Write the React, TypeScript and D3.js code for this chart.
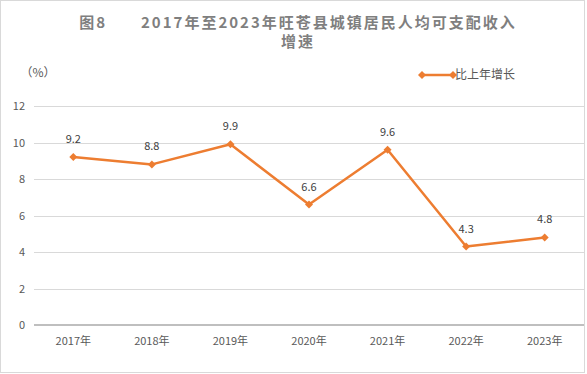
import { useEffect, useRef } from 'react'
import * as d3 from 'd3'

const YEARS = ['2017年', '2018年', '2019年', '2020年', '2021年', '2022年', '2023年']
const GROWTH = [9.2, 8.8, 9.9, 6.6, 9.6, 4.3, 4.8]
const Y_TICKS = [0, 2, 4, 6, 8, 10, 12]
const SERIES_NAME = '比上年增长'
const TITLE_1 = '图8　　2017年至2023年旺苍县城镇居民人均可支配收入'
const TITLE_2 = '增速'

const W = 587
const H = 374
const ORANGE = '#ED7D31'
const FONT = '"Noto Sans CJK SC", "Noto Sans", sans-serif'

export default function App() {
  const svgRef = useRef<SVGSVGElement | null>(null)

  useEffect(() => {
    const svg = svgRef.current
    if (!svg) return
    const root = d3.select(svg)
    root.selectAll('*').remove()

    const margin = { top: 106, right: 3, bottom: 49, left: 34 }

    const x = d3
      .scaleBand<string>()
      .domain(YEARS)
      .range([margin.left, W - margin.right])
    const y = d3
      .scaleLinear()
      .domain([0, 12])
      .range([H - margin.bottom, margin.top])

    // border
    root
      .append('rect')
      .attr('x', 0.5)
      .attr('y', 0.5)
      .attr('width', W - 3)
      .attr('height', H - 2)
      .attr('fill', '#fff')
      .attr('stroke', '#d9d9d9')

    // title, two lines
    root
      .append('g')
      .selectAll('text')
      .data([TITLE_1, TITLE_2])
      .join('text')
      .attr('x', 298)
      .attr('y', (_, i) => 28 + i * 19)
      .attr('text-anchor', 'middle')
      .attr('font-family', FONT)
      .attr('font-weight', 'bold')
      .attr('font-size', 15)
      .attr('letter-spacing', 2)
      .attr('fill', '#7f7f7f')
      .text((d) => d)

    // unit
    root
      .append('text')
      .attr('x', 38)
      .attr('y', 77)
      .attr('text-anchor', 'middle')
      .attr('font-family', FONT)
      .attr('font-size', 12)
      .attr('fill', '#595959')
      .text('（%）')

    // grid
    root
      .append('g')
      .selectAll('line')
      .data(Y_TICKS.filter((t) => t > 0))
      .join('line')
      .attr('x1', margin.left)
      .attr('x2', W - margin.right)
      .attr('y1', (d) => Math.round(y(d)) + 0.5)
      .attr('y2', (d) => Math.round(y(d)) + 0.5)
      .attr('stroke', '#d9d9d9')

    // zero axis
    root
      .append('line')
      .attr('x1', margin.left)
      .attr('x2', W - margin.right)
      .attr('y1', y(0))
      .attr('y2', y(0))
      .attr('stroke', '#bfbfbf')
      .attr('stroke-width', 2)

    // y tick labels
    root
      .append('g')
      .selectAll('text')
      .data(Y_TICKS)
      .join('text')
      .attr('x', 25)
      .attr('y', (d) => y(d) + 4)
      .attr('text-anchor', 'end')
      .attr('font-family', FONT)
      .attr('font-size', 11)
      .attr('fill', '#595959')
      .text((d) => d)

    // x labels
    root
      .append('g')
      .selectAll('text')
      .data(YEARS)
      .join('text')
      .attr('x', (d) => x(d)! + x.bandwidth() / 2)
      .attr('y', y(0) + 20)
      .attr('text-anchor', 'middle')
      .attr('font-family', FONT)
      .attr('font-size', 11)
      .attr('fill', '#595959')
      .text((d) => d)

    const cx = (i: number) => x(YEARS[i])! + x.bandwidth() / 2

    const line = d3
      .line<number>()
      .x((_, i) => cx(i))
      .y((d) => y(d))

    root
      .append('path')
      .datum(GROWTH)
      .attr('d', line)
      .attr('fill', 'none')
      .attr('stroke', ORANGE)
      .attr('stroke-width', 2.5)
      .attr('stroke-linejoin', 'round')

    // square rotated 45deg gives Excel-like diamond
    const diamond = d3.symbol().type(d3.symbolSquare).size(32)

    root
      .append('g')
      .selectAll('path')
      .data(GROWTH)
      .join('path')
      .attr('d', diamond)
      .attr('transform', (d, i) => `translate(${cx(i)},${y(d)}) rotate(45)`)
      .attr('fill', ORANGE)

    root
      .append('g')
      .selectAll('text')
      .data(GROWTH)
      .join('text')
      .attr('x', (_, i) => cx(i))
      .attr('y', (d) => y(d) - 14)
      .attr('text-anchor', 'middle')
      .attr('font-family', FONT)
      .attr('font-size', 11)
      .attr('fill', '#404040')
      .text((d) => d.toFixed(1))

    // legend
    const lg = root.append('g').attr('transform', 'translate(0,75)')
    lg.append('line')
      .attr('x1', 422)
      .attr('x2', 453)
      .attr('stroke', ORANGE)
      .attr('stroke-width', 2.5)
    lg.selectAll('path')
      .data([422, 453])
      .join('path')
      .attr('d', diamond)
      .attr('transform', (d) => `translate(${d},0) rotate(45)`)
      .attr('fill', ORANGE)
    lg.append('text')
      .attr('x', 455)
      .attr('y', 4)
      .attr('font-family', FONT)
      .attr('font-size', 12)
      .attr('fill', '#595959')
      .text(SERIES_NAME)
  }, [])

  return (
    <svg
      ref={svgRef}
      width={W}
      height={H}
      style={{ position: 'absolute', left: 0, top: 0, display: 'block' }}
    />
  )
}
